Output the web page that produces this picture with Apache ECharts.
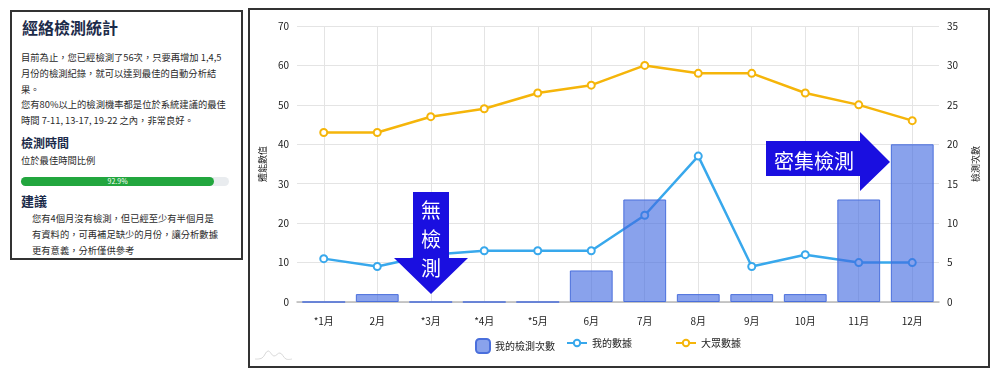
<!DOCTYPE html>
<html lang="zh-Hant">
<head>
    <meta charset="UTF-8">
    <title>經絡檢測統計</title>
    <style>
        body {
            margin: 0;
            width: 1000px;
            height: 377px;
            background: #fff;
            font-family: 'Noto Sans CJK TC', 'Noto Sans', sans-serif;
            color: #222;
            position: relative;
            overflow: hidden;
        }
        .panel {
            position: absolute;
            left: 10px;
            top: 10px;
            width: 229px;
            height: 246px;
            border: 2px solid #333;
        }
        .panel div { position: absolute; white-space: nowrap; }
        .title { left: 10px; top: 5px; font-size: 16px; line-height: 20px; font-weight: bold; color: #1c2b4a; }
        .txt { font-size: 9.3px; line-height: 16px; color: #2a2a2a; }
        .sub { font-size: 12px; line-height: 16px; font-weight: bold; color: #1c2b4a; }
        .bar-bg { left: 9px; top: 165px; width: 208px; height: 9px; background: #e9ecef; border-radius: 5px; }
        .bar-fill { left: 0; top: 0; height: 9px; background: #22a63e; border-radius: 5px;
            color: #fff; font-size: 7px; line-height: 9px; text-align: center; }
        .chart-box {
            position: absolute;
            left: 248px;
            top: 8px;
            width: 738px;
            height: 356px;
            border: 2px solid #333;
        }
        #chart { width: 738px; height: 356px; }
    </style>
    <script src="https://cdn.jsdelivr.net/npm/echarts@6/dist/echarts.min.js"></script>
</head>
<body>

<div class="panel">
    <div class="title">經絡檢測統計</div>
    <div class="txt" style="left:9px; top:37px;">目前為止，您已經檢測了56次，只要再增加 1,4,5<br>月份的檢測紀錄，就可以達到最佳的自動分析結<br>果。</div>
    <div class="txt" style="left:9px; top:84px;">您有80%以上的檢測機率都是位於系統建議的最佳<br>時間 7-11, 13-17, 19-22 之內，非常良好。</div>
    <div class="sub" style="left:9px; top:123px;">檢測時間</div>
    <div class="txt" style="left:9px; top:140px;">位於最佳時間比例</div>
    <div class="bar-bg"><div class="bar-fill" id="fill"></div></div>
    <div class="sub" style="left:9px; top:181px; font-size:13px;">建議</div>
    <div class="txt" style="left:20px; top:198px;">您有4個月沒有檢測，但已經至少有半個月是<br>有資料的，可再補足缺少的月份，讓分析數據<br>更有意義，分析僅供參考</div>
</div>

<div class="chart-box"><div id="chart"></div></div>

<script>
    // Data
    var months = ['*1月', '2月', '*3月', '*4月', '*5月', '6月', '7月', '8月', '9月', '10月', '11月', '12月'];
    var myCounts = [0, 1, 0, 0, 0, 4, 13, 1, 1, 1, 13, 20];      // 我的檢測次數 (right axis)
    var myData = [11, 9, 12, 13, 13, 13, 22, 37, 9, 12, 10, 10];   // 我的數據
    var publicData = [43, 43, 47, 49, 53, 55, 60, 58, 58, 53, 50, 46]; // 大眾數據
    var bestTimeRatio = 92.9;

    var fill = document.getElementById('fill');
    fill.style.width = bestTimeRatio + '%';
    fill.textContent = bestTimeRatio + '%';

    // helper axis with 25 half-steps so vertical grid lines sit on category centres
    var halfSteps = [];
    for (var i = 0; i <= months.length * 2; i++) halfSteps.push(i);

    var font = 'Noto Sans CJK TC';
    var labelStyle = { color: '#222', fontSize: 10, fontFamily: font };

    var chart = echarts.init(document.getElementById('chart'));
    chart.setOption({
        animation: false,
        textStyle: { fontFamily: font },
        grid: { left: 46, right: 48, top: 16, bottom: 64 },
        legend: [
            { data: ['我的檢測次數'], left: 220, top: 323, itemWidth: 14, itemHeight: 14, textStyle: labelStyle },
            { data: ['我的數據'], left: 311, top: 323, itemWidth: 20, itemHeight: 8, textStyle: labelStyle },
            { data: ['大眾數據'], left: 420, top: 323, itemWidth: 20, itemHeight: 8, textStyle: labelStyle }
        ],
        xAxis: [
            {
                type: 'category',
                data: months,
                axisLine: { lineStyle: { color: '#b8b8b8', width: 1.5 } },
                axisTick: { show: false },
                axisLabel: { color: '#222', fontSize: 10, margin: 14, fontFamily: font },
                splitLine: { show: false }
            },
            {
                type: 'category',
                data: halfSteps,
                boundaryGap: false,
                show: true,
                axisLine: { show: false },
                axisTick: { show: false },
                axisLabel: { show: false },
                splitLine: {
                    show: true,
                    interval: function (idx) { return idx % 2 === 1; },
                    lineStyle: { color: '#e4e4e4' }
                }
            }
        ],
        yAxis: [
            {
                type: 'value',
                name: '體能數值',
                nameLocation: 'middle',
                nameGap: 30,
                nameTextStyle: { fontSize: 9, color: '#222', fontFamily: font },
                min: 0, max: 70, interval: 10,
                axisLine: { show: false },
                axisTick: { show: false },
                axisLabel: { color: '#222', fontSize: 10, margin: 8 },
                splitLine: { lineStyle: { color: '#e4e4e4' } }
            },
            {
                type: 'value',
                name: '檢測次數',
                nameLocation: 'middle',
                nameGap: 32,
                nameTextStyle: { fontSize: 9, color: '#222', fontFamily: font },
                min: 0, max: 35, interval: 5,
                axisLine: { show: false },
                axisTick: { show: false },
                axisLabel: { color: '#222', fontSize: 10, margin: 8 },
                splitLine: { show: false }
            }
        ],
        series: [
            {
                name: '大眾數據',
                type: 'line',
                yAxisIndex: 0,
                data: publicData,
                symbol: 'circle',
                symbolSize: 7,
                z: 2,
                itemStyle: { color: '#fff', borderColor: '#f5b50a', borderWidth: 2 },
                lineStyle: { color: '#f5b50a', width: 2.5 }
            },
            {
                name: '我的數據',
                type: 'line',
                yAxisIndex: 0,
                data: myData,
                symbol: 'circle',
                symbolSize: 7,
                z: 2,
                itemStyle: { color: '#fff', borderColor: '#38a8ec', borderWidth: 2 },
                lineStyle: { color: '#38a8ec', width: 2.5 }
            },
            {
                name: '我的檢測次數',
                type: 'bar',
                yAxisIndex: 1,
                data: myCounts,
                barWidth: '80%',
                z: 3,
                itemStyle: { color: 'rgba(65,105,225,0.62)', borderColor: '#4a6fdc', borderWidth: 1 }
            }
        ],
        graphic: [
            {
                type: 'polygon',
                z: 100,
                shape: { points: [[163, 182], [199, 182], [199, 248], [218, 248], [181, 284], [144, 248], [163, 248]] },
                style: { fill: '#1a0fe0' }
            },
            {
                type: 'text',
                z: 101,
                x: 181, y: 229,
                style: {
                    text: '無\n檢\n測', fill: '#fff', fontSize: 20, lineHeight: 29,
                    fontFamily: font, align: 'center', verticalAlign: 'middle'
                }
            },
            {
                type: 'polygon',
                z: 100,
                shape: { points: [[516, 131], [610, 131], [610, 122], [640, 152], [610, 181], [610, 166], [516, 166]] },
                style: { fill: '#1a0fe0' }
            },
            {
                type: 'text',
                z: 101,
                x: 564, y: 151,
                style: {
                    text: '密集檢測', fill: '#fff', fontSize: 20,
                    fontFamily: font, align: 'center', verticalAlign: 'middle'
                }
            },
            {
                type: 'polyline',
                z: 1,
                shape: { points: [[5, 349], [12, 348], [18, 341], [24, 346], [30, 343], [36, 349], [42, 349]], smooth: 0.4 },
                style: { stroke: '#d8d8d8', lineWidth: 1, fill: null }
            }
        ]
    });
</script>
</body>
</html>
